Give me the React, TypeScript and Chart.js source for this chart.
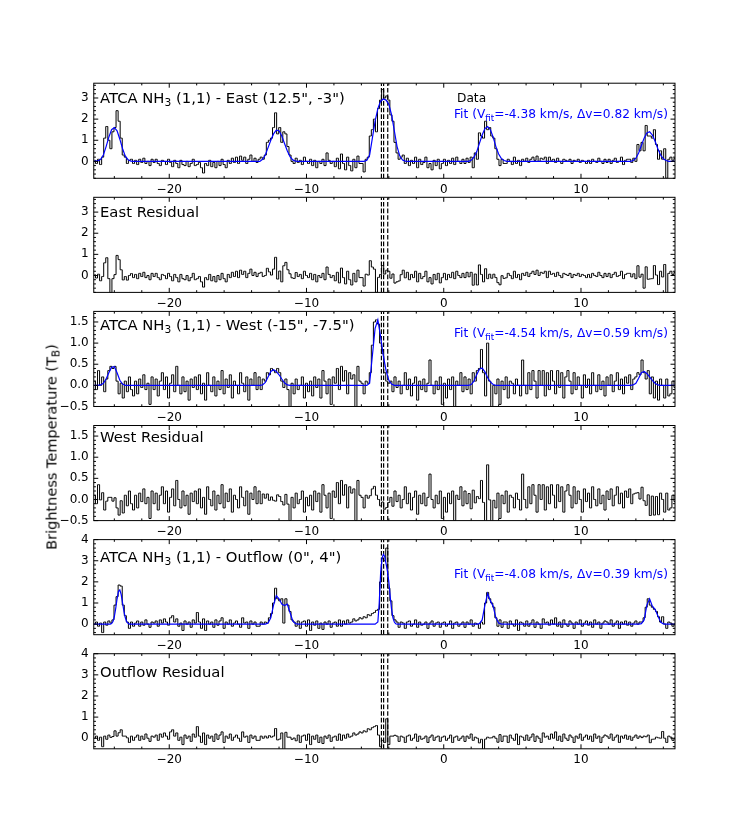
import React, { useEffect, useRef } from 'react';
import { Chart, registerables } from 'chart.js';

Chart.register(...registerables);

// ---------------- data ----------------
// channel grid (km/s): first channel velocity and channel width
const V_START = -25.45;
const V_STEP = 0.15;
const X_MIN = -25.5;
const X_MAX = 16.85;
const X_TICK_STEP = 10;
const X_MINOR_STEP = 2;

// fitted centroid velocities (dashed markers)
const V_MARKERS = [-4.54, -4.38, -4.08];

const EAST_DATA = [
  0.05, -0.1, 0.1, -0.15, 0.2, 1.1, 1.65, 1.0, 0.6, 1.4,
  1.6, 2.4, 1.9, 1.1, 0.3, 0.2, -0.1, 0.05, 0.1, -0.1,
  0.05, -0.15, 0.1, -0.05, 0.15, -0.1, 0.0, -0.2, 0.1, -0.05,
  0.1, -0.1, -0.2, 0.05, 0.0, -0.15, 0.1, -0.05, -0.25, 0.05,
  -0.1, -0.3, 0.05, -0.15, -0.2, 0.0, -0.25, -0.1, 0.1, -0.2,
  -0.15, -0.05, -0.3, -0.55, -0.1, -0.2, 0.05, -0.25, -0.05, -0.3,
  0.0, -0.2, 0.1, -0.15, -0.3, 0.05, -0.1, 0.15, -0.05, 0.2,
  -0.1, 0.25, 0.05, 0.2, -0.1, 0.1, 0.3, 0.0, 0.15, -0.05,
  0.1, 0.2, 0.1, 0.3, 0.9, 1.0, 1.1, 1.6, 2.3, 1.3,
  1.6, 0.9, 1.4, 1.3, 0.7, 0.3, 0.0, -0.1, 0.15, -0.05,
  0.05, -0.15, 0.2, 0.0, -0.1, 0.1, -0.2, 0.05, -0.3, 0.0,
  -0.1, 0.1, -0.2, 0.4, 0.05, -0.1, 0.0, -0.25, 0.15, -0.35,
  0.35, -0.1, -0.4, 0.2, -0.2, -0.45, 0.1, -0.3, 0.25, -0.1,
  -0.1, -0.5, 0.1, 0.2, 1.2, 1.5, 2.0, 1.4, 2.5, 2.9,
  3.4, 3.0, 3.1, 2.9, 2.2, 1.9, 0.9, 0.4, 0.1, 0.2,
  0.3, -0.1, 0.15, -0.2, 0.05, -0.1, 0.2, -0.3, 0.1, -0.15,
  -0.05, 0.2, -0.3, -0.1, -0.4, 0.05, -0.2, 0.1, -0.35, -0.1,
  0.1, -0.2, 0.05, -0.1, 0.15, -0.15, 0.2, 0.0, -0.1, 0.1,
  -0.1, 0.15, -0.05, 0.2, -0.3, 0.4, 0.1, 1.35, 1.2, 1.1,
  1.9, 1.5, 1.6, 1.2, 1.1, 0.6, 0.1, -0.2, 0.1, -0.1,
  -0.1, 0.1, 0.0, -0.15, 0.2, -0.1, 0.05, -0.2, 0.1, 0.0,
  0.15, -0.05, 0.1, 0.2, 0.05, 0.25, 0.0, 0.15, 0.1, 0.2,
  -0.1, 0.2, 0.05, 0.1, -0.05, 0.15, 0.0, -0.1, 0.1, 0.05,
  0.0, 0.1, -0.1, 0.05, 0.0, 0.1, -0.05, 0.05, 0.0, -0.1,
  0.05, -0.1, 0.1, 0.0, -0.05, 0.15, 0.0, -0.1, 0.1, -0.05,
  0.1, -0.1, 0.05, 0.15, -0.05, 0.0, 0.2, -0.15, 0.05, 0.1,
  0.1, -0.05, 0.15, 0.0, 0.8, 0.5, 0.9, 0.5, 1.7, 1.2,
  1.2, 1.1, 1.5, 0.8, 0.1, 0.5, 0.1, 0.6, -0.8, 0.1,
  0.2, 0.05, 0.15,
];

const EAST_FIT = [
  [-25.6, 0], [-25.4, 0.01], [-25.2, 0.02], [-25.0, 0.1], [-24.8, 0.3], [-24.6, 0.7], [-24.4, 1.15],
  [-24.2, 1.5], [-24.0, 1.6], [-23.8, 1.45], [-23.6, 1.05], [-23.4, 0.6], [-23.2, 0.25], [-23.0, 0.08],
  [-22.8, 0.01], [-22.6, 0],
  [-13.6, 0], [-13.4, 0.0], [-13.2, 0.1], [-13.0, 0.3], [-12.8, 0.65], [-12.6, 1.0], [-12.4, 1.3],
  [-12.2, 1.48], [-12.0, 1.45], [-11.8, 1.2], [-11.6, 0.85], [-11.4, 0.5], [-11.2, 0.22], [-11.0, 0.07],
  [-10.8, 0.01], [-10.6, 0],
  [-5.8, 0], [-5.6, 0.05], [-5.4, 0.3], [-5.2, 1.1], [-5.0, 1.9], [-4.8, 2.5], [-4.6, 2.85], [-4.4, 2.95],
  [-4.2, 2.9], [-4.0, 2.7], [-3.8, 2.2], [-3.6, 1.45], [-3.4, 0.7], [-3.2, 0.25], [-3.0, 0.06],
  [-2.8, 0.01], [-2.6, 0],
  [1.8, 0], [2.0, 0.05], [2.2, 0.2], [2.4, 0.45], [2.6, 0.85], [2.8, 1.25], [3.0, 1.55], [3.2, 1.65],
  [3.4, 1.5], [3.6, 1.15], [3.8, 0.7], [4.0, 0.35], [4.2, 0.13], [4.4, 0.04], [4.6, 0],
  [13.6, 0], [13.8, 0.04], [14.0, 0.15], [14.2, 0.4], [14.4, 0.75], [14.6, 1.1], [14.8, 1.35], [15.0, 1.4],
  [15.2, 1.25], [15.4, 0.95], [15.6, 0.6], [15.8, 0.3], [16.0, 0.12], [16.2, 0.04], [16.4, 0], [17.0, 0],
];

const EAST_RESIDUAL = [
  0.04, -0.12, 0.06, -0.25, -0.05, 0.6, 0.84, -0.15, -0.81, -0.15,
  0.04, 0.95, 0.75, 0.27, -0.21, -0.05, -0.22, 0.0, 0.09, -0.1,
  0.05, -0.15, 0.1, -0.05, 0.15, -0.1, 0.0, -0.2, 0.1, -0.05,
  0.1, -0.1, -0.2, 0.05, 0.0, -0.15, 0.1, -0.05, -0.25, 0.05,
  -0.1, -0.3, 0.05, -0.15, -0.2, 0.0, -0.25, -0.1, 0.1, -0.2,
  -0.15, -0.05, -0.3, -0.55, -0.1, -0.2, 0.05, -0.25, -0.05, -0.3,
  0.0, -0.2, 0.1, -0.15, -0.3, 0.05, -0.1, 0.15, -0.05, 0.2,
  -0.1, 0.25, 0.05, 0.2, -0.1, 0.1, 0.3, 0.0, 0.15, -0.05,
  0.1, 0.15, -0.05, 0.0, 0.34, 0.17, 0.02, 0.3, 0.86, -0.17,
  0.21, -0.3, 0.46, 0.62, 0.27, 0.08, -0.11, -0.14, 0.14, -0.05,
  0.05, -0.15, 0.2, 0.0, -0.1, 0.1, -0.2, 0.05, -0.3, 0.0,
  -0.1, 0.1, -0.2, 0.4, 0.05, -0.1, 0.0, -0.25, 0.15, -0.35,
  0.35, -0.1, -0.4, 0.2, -0.2, -0.45, 0.1, -0.3, 0.25, -0.1,
  -0.1, -0.5, 0.06, 0.02, 0.7, 0.4, 0.3, -0.8, -0.09, 0.05,
  0.47, 0.07, 0.25, 0.2, -0.13, 0.07, -0.36, -0.3, -0.26, 0.04,
  0.25, -0.11, 0.15, -0.2, 0.05, -0.1, 0.2, -0.3, 0.1, -0.15,
  -0.05, 0.2, -0.3, -0.1, -0.4, 0.05, -0.2, 0.1, -0.35, -0.1,
  0.1, -0.2, 0.05, -0.1, 0.15, -0.15, 0.2, 0.0, -0.1, 0.1,
  -0.1, 0.15, -0.06, 0.15, -0.46, 0.07, -0.45, 0.5, 0.05, -0.3,
  0.32, -0.15, 0.06, -0.13, 0.06, -0.1, -0.34, -0.44, -0.01, -0.14,
  -0.11, 0.1, 0.0, -0.15, 0.2, -0.1, 0.05, -0.2, 0.1, 0.0,
  0.15, -0.05, 0.1, 0.2, 0.05, 0.25, 0.0, 0.15, 0.1, 0.2,
  -0.1, 0.2, 0.05, 0.1, -0.05, 0.15, 0.0, -0.1, 0.1, 0.05,
  0.0, 0.1, -0.1, 0.05, 0.0, 0.1, -0.05, 0.05, 0.0, -0.1,
  0.05, -0.1, 0.1, 0.0, -0.05, 0.15, 0.0, -0.1, 0.1, -0.05,
  0.1, -0.1, 0.05, 0.15, -0.05, 0.0, 0.2, -0.15, 0.05, 0.1,
  0.1, -0.07, 0.08, -0.15, 0.46, -0.08, 0.06, -0.6, 0.41, -0.18,
  -0.16, -0.15, 0.47, 0.02, -0.43, 0.2, -0.07, 0.52, -0.83, 0.1,
  0.2, 0.05, 0.15,
];

const WEST_DATA = [
  0.1, -0.1, 0.35, 0.0, 0.2, -0.15, 0.15, 0.35, 0.45, 0.4,
  0.45, 0.1, -0.2, 0.05, -0.3, 0.1, -0.15, 0.2, -0.1, -0.25,
  0.1, -0.2, 0.15, -0.05, 0.25, -0.1, 0.05, -0.45, 0.2, -0.1,
  0.15, -0.25, 0.1, 0.3, -0.1, 0.2, -0.3, 0.05, 0.25, -0.15,
  0.45, 0.0, -0.2, 0.2, -0.15, 0.1, -0.35, 0.15, -0.05, 0.2,
  -0.1, 0.25, -0.2, 0.05, -0.35, 0.3, 0.0, -0.15, 0.2, -0.25,
  0.1, -0.1, 0.35, -0.2, 0.15, -0.05, 0.25, -0.3, 0.1, 0.0,
  -0.2, 0.3, 0.05, -0.15, 0.2, -0.35, 0.15, 0.0, 0.3, -0.1,
  0.2, -0.1, 0.15, 0.1, 0.3, 0.25, 0.4, 0.35, 0.3, 0.4,
  0.3, 0.1, -0.05, 0.15, -0.1, -0.5, 0.05, -0.2, 0.15, -0.1,
  0.0, 0.2, -0.3, 0.05, -0.15, 0.1, -0.25, 0.2, -0.05, 0.15,
  -0.3, 0.35, 0.1, -0.2, 0.15, -0.45, 0.2, 0.05, 0.4, -0.1,
  0.45, 0.1, 0.35, -0.2, 0.3, 0.15, 0.25, -0.5, 0.45, 0.1,
  0.05, -0.2, 0.1, 0.05, 0.3, 0.95, 1.5, 1.55, 1.45, 1.0,
  0.75, 0.3, 0.1, 0.05, 0.1, -0.15, 0.2, -0.05, 0.1, -0.2,
  0.0, 0.3, -0.1, 0.15, -0.25, 0.05, 0.2, -0.35, 0.1, -0.1,
  0.15, -0.15, 0.05, 0.6, 0.0, -0.2, 0.1, -0.1, 0.2, -0.45,
  0.05, -0.3, 0.15, -0.1, 0.2, -0.5, 0.1, 0.0, 0.3, -0.15,
  0.2, -0.1, 0.15, -0.2, 0.3, 0.1, 0.35, 0.4, 0.85, 0.3,
  -0.25, 1.0, 0.1, -0.5, 0.0, -0.2, 0.15, -0.45, 0.1, -0.1,
  0.2, -0.3, 0.1, 0.05, -0.2, 0.15, 0.0, -0.25, 0.6, 0.0,
  -0.2, 0.3, -0.1, 0.35, 0.1, -0.3, 0.35, 0.0, 0.35, -0.25,
  0.3, -0.1, 0.35, 0.1, -0.2, 0.35, -0.05, 0.3, -0.3, 0.2,
  0.35, 0.1, -0.2, 0.3, -0.1, 0.2, 0.0, -0.3, 0.25, -0.05,
  0.15, -0.2, 0.3, 0.0, -0.15, 0.25, -0.1, 0.1, -0.25, 0.2,
  0.0, 0.25, -0.15, 0.1, 0.3, -0.1, 0.15, -0.2, 0.2, 0.05,
  0.25, -0.1, 0.15, 0.2, 0.3, 0.25, 0.6, 0.3, 0.15, 0.35,
  -0.2, 0.2, -0.3, 0.1, -0.35, 0.15, 0.0, -0.3, 0.15, -0.25,
  -0.2, 0.1, -0.05,
];

const WEST_FIT = [
  [-25.6, 0], [-25.2, 0], [-25.0, 0.01], [-24.8, 0.05], [-24.6, 0.15], [-24.4, 0.3], [-24.2, 0.43],
  [-24.0, 0.44], [-23.8, 0.3], [-23.6, 0.12], [-23.4, 0.03], [-23.2, 0],
  [-13.4, 0], [-13.2, 0.01], [-13.0, 0.07], [-12.8, 0.2], [-12.6, 0.33], [-12.4, 0.37], [-12.2, 0.33],
  [-12.0, 0.25], [-11.8, 0.15], [-11.6, 0.06], [-11.4, 0.01], [-11.2, 0],
  [-5.6, 0], [-5.4, 0.05], [-5.2, 0.7], [-5.0, 1.35], [-4.8, 1.55], [-4.6, 1.15], [-4.4, 0.7],
  [-4.2, 0.35], [-4.0, 0.12], [-3.8, 0.03], [-3.6, 0],
  [1.8, 0], [2.0, 0.02], [2.2, 0.1], [2.4, 0.25], [2.6, 0.38], [2.8, 0.41], [3.0, 0.32], [3.2, 0.18],
  [3.4, 0.08], [3.6, 0.02], [3.8, 0],
  [13.6, 0], [13.8, 0.01], [14.0, 0.05], [14.2, 0.17], [14.4, 0.3], [14.6, 0.33], [14.8, 0.28],
  [15.0, 0.2], [15.2, 0.12], [15.4, 0.05], [15.6, 0.01], [15.8, 0], [17.0, 0],
];

const WEST_RESIDUAL = [
  0.1, -0.1, 0.35, -0.01, 0.16, -0.25, -0.04, 0.05, 0.05, -0.04,
  0.04, -0.2, -0.37, -0.03, -0.32, 0.1, -0.15, 0.2, -0.1, -0.25,
  0.1, -0.2, 0.15, -0.05, 0.25, -0.1, 0.05, -0.45, 0.2, -0.1,
  0.15, -0.25, 0.1, 0.3, -0.1, 0.2, -0.3, 0.05, 0.25, -0.15,
  0.45, 0.0, -0.2, 0.2, -0.15, 0.1, -0.35, 0.15, -0.05, 0.2,
  -0.1, 0.25, -0.2, 0.05, -0.35, 0.3, 0.0, -0.15, 0.2, -0.25,
  0.1, -0.1, 0.35, -0.2, 0.15, -0.05, 0.25, -0.3, 0.1, 0.0,
  -0.2, 0.3, 0.05, -0.15, 0.2, -0.35, 0.15, 0.0, 0.3, -0.1,
  0.2, -0.1, 0.13, 0.03, 0.13, -0.02, 0.06, -0.02, -0.04, 0.11,
  0.07, -0.05, -0.13, 0.12, -0.11, -0.5, 0.05, -0.2, 0.15, -0.1,
  0.0, 0.2, -0.3, 0.05, -0.15, 0.1, -0.25, 0.2, -0.05, 0.15,
  -0.3, 0.35, 0.1, -0.2, 0.15, -0.45, 0.2, 0.05, 0.4, -0.1,
  0.45, 0.1, 0.35, -0.2, 0.3, 0.15, 0.25, -0.5, 0.45, 0.1,
  0.05, -0.2, 0.1, 0.03, 0.09, 0.25, 0.31, 0.1, 0.0, -0.15,
  -0.06, -0.23, -0.19, -0.07, 0.05, -0.16, 0.2, -0.05, 0.1, -0.2,
  0.0, 0.3, -0.1, 0.15, -0.25, 0.05, 0.2, -0.35, 0.1, -0.1,
  0.15, -0.15, 0.05, 0.6, 0.0, -0.2, 0.1, -0.1, 0.2, -0.45,
  0.05, -0.3, 0.15, -0.1, 0.2, -0.5, 0.1, 0.0, 0.3, -0.15,
  0.2, -0.1, 0.14, -0.22, 0.22, -0.08, 0.07, 0.02, 0.45, -0.07,
  -0.54, 0.82, -0.01, -0.55, -0.02, -0.2, 0.15, -0.45, 0.1, -0.1,
  0.2, -0.3, 0.1, 0.05, -0.2, 0.15, 0.0, -0.25, 0.6, 0.0,
  -0.2, 0.3, -0.1, 0.35, 0.1, -0.3, 0.35, 0.0, 0.35, -0.25,
  0.3, -0.1, 0.35, 0.1, -0.2, 0.35, -0.05, 0.3, -0.3, 0.2,
  0.35, 0.1, -0.2, 0.3, -0.1, 0.2, 0.0, -0.3, 0.25, -0.05,
  0.15, -0.2, 0.3, 0.0, -0.15, 0.25, -0.1, 0.1, -0.25, 0.2,
  0.0, 0.25, -0.15, 0.1, 0.3, -0.1, 0.15, -0.2, 0.2, 0.05,
  0.25, -0.1, 0.13, 0.15, 0.16, 0.01, 0.29, -0.03, -0.14, 0.11,
  -0.38, 0.08, -0.37, 0.07, -0.36, 0.15, 0.0, -0.3, 0.15, -0.25,
  -0.2, 0.1, -0.05,
];

const OUTFLOW_DATA = [
  0.0, 0.1, -0.1, 0.05, -0.4, 0.1, -0.05, 0.15, 0.05, 0.2,
  0.9, 1.3, 1.85, 1.8, 0.9, 0.4, 0.1, -0.2, 0.1, -0.1,
  0.05, 0.15, -0.1, 0.1, -0.05, 0.2, 0.0, -0.15, 0.1, 0.05,
  0.15, -0.1, 0.2, 0.05, 0.25, 0.1, -0.05, 0.3, 0.4, 0.1,
  0.25, -0.1, 0.05, -0.3, 0.15, 0.0, 0.1, -0.15, 0.2, 0.05,
  0.55, 0.1, -0.2, 0.25, -0.3, 0.15, 0.0, 0.1, -0.15, 0.2,
  -0.05, 0.15, 0.3, -0.2, 0.1, 0.0, 0.2, -0.1, 0.05, 0.15,
  0.0, -0.15, 0.3, 0.05, 0.1, -0.2, 0.15, 0.0, 0.1, -0.1,
  -0.1, 0.1, 0.0, 0.1, 0.05, 0.3, 0.5, 1.0, 1.7, 1.2,
  1.1, 1.2, 0.05, 1.2, 0.9, 0.6, 0.2, 0.1, -0.1, 0.15,
  -0.2, 0.1, 0.15, -0.1, 0.2, -0.3, 0.1, -0.05, 0.15, -0.2,
  0.05, -0.25, 0.1, 0.0, 0.15, -0.15, 0.05, 0.1, -0.1, 0.2,
  -0.1, 0.15, 0.0, 0.2, 0.05, 0.1, 0.25, 0.15, 0.2, 0.3,
  0.25, 0.35, 0.3, 0.45, 0.4, 0.5, 0.55, 0.65, 0.7, 2.0,
  3.1, 3.0, 3.6, 1.7, 1.1, 0.4, 0.2, 0.1, -0.15, 0.1,
  0.05, -0.2, 0.1, 0.15, -0.1, 0.0, 0.2, -0.15, 0.1, -0.05,
  0.0, 0.1, -0.2, 0.05, 0.15, -0.1, 0.05, 0.1, -0.15, 0.05,
  0.1, -0.1, 0.0, 0.15, -0.2, 0.05, 0.1, -0.1, 0.0, 0.1,
  -0.15, 0.1, 0.0, 0.2, -0.1, 0.05, 0.0, -0.2, 0.1, 0.0,
  1.0, 1.5, 1.2, 1.0, 0.8, 0.3, -0.1, 0.2, -0.15, 0.1,
  0.1, -0.2, 0.15, 0.0, -0.1, 0.2, -0.3, 0.1, 0.05, -0.1,
  0.15, -0.1, 0.05, 0.2, -0.15, 0.1, 0.0, -0.2, 0.25, 0.05,
  0.1, -0.05, 0.2, 0.0, 0.3, -0.1, 0.1, -0.15, 0.2, 0.0,
  -0.1, 0.15, 0.05, -0.2, 0.1, 0.0, 0.2, -0.1, 0.05, 0.15,
  -0.05, 0.1, -0.15, 0.2, 0.0, 0.1, -0.2, 0.05, 0.15, 0.1,
  0.0, 0.2, -0.1, 0.05, 0.15, -0.2, 0.1, 0.0, 0.15, -0.05,
  0.1, -0.1, 0.05, 0.15, 0.0, 0.1, 0.1, 0.3, 0.8, 1.2,
  0.9, 0.8, 0.7, 0.6, 0.35, 0.1, 0.35, 0.0, -0.2, 0.1,
  0.05, -0.1, 0.0,
];

const OUTFLOW_FIT = [
  [-25.6, 0], [-24.3, 0], [-24.2, 0.03], [-24.1, 0.12], [-24.0, 0.35], [-23.9, 0.75], [-23.8, 1.2],
  [-23.7, 1.55], [-23.6, 1.62], [-23.5, 1.4], [-23.4, 1.0], [-23.3, 0.6], [-23.2, 0.3], [-23.1, 0.12],
  [-23.0, 0.04], [-22.9, 0],
  [-13.0, 0], [-12.8, 0.05], [-12.6, 0.3], [-12.4, 0.9], [-12.2, 1.35], [-12.0, 1.2], [-11.8, 0.95],
  [-11.6, 0.88], [-11.4, 0.95], [-11.2, 0.55], [-11.0, 0.15], [-10.8, 0.02], [-10.6, 0],
  [-5.0, 0], [-4.8, 0.1], [-4.7, 1.0], [-4.6, 2.4], [-4.5, 3.1], [-4.4, 3.3], [-4.3, 3.2], [-4.2, 2.85],
  [-4.1, 2.5], [-4.0, 2.0], [-3.9, 1.3], [-3.8, 0.7], [-3.7, 0.3], [-3.6, 0.1], [-3.5, 0.02], [-3.4, 0],
  [2.4, 0], [2.6, 0.02], [2.8, 0.2], [3.0, 0.9], [3.2, 1.45], [3.4, 1.1], [3.6, 0.85], [3.8, 0.3],
  [4.0, 0.05], [4.2, 0],
  [14.2, 0], [14.4, 0.02], [14.6, 0.2], [14.8, 0.9], [15.0, 1.2], [15.2, 0.85], [15.4, 0.7], [15.6, 0.4],
  [15.8, 0.1], [16.0, 0.01], [16.2, 0], [17.0, 0],
];

const OUTFLOW_RESIDUAL = [
  0.0, 0.1, -0.1, 0.05, -0.4, 0.1, -0.05, 0.15, 0.04, 0.08,
  0.35, 0.1, 0.26, 0.4, 0.1, 0.1, 0.02, -0.2, 0.1, -0.1,
  0.05, 0.15, -0.1, 0.1, -0.05, 0.2, 0.0, -0.15, 0.1, 0.05,
  0.15, -0.1, 0.2, 0.05, 0.25, 0.1, -0.05, 0.3, 0.4, 0.1,
  0.25, -0.1, 0.05, -0.3, 0.15, 0.0, 0.1, -0.15, 0.2, 0.05,
  0.55, 0.1, -0.2, 0.25, -0.3, 0.15, 0.0, 0.1, -0.15, 0.2,
  -0.05, 0.15, 0.3, -0.2, 0.1, 0.0, 0.2, -0.1, 0.05, 0.15,
  0.0, -0.15, 0.3, 0.05, 0.1, -0.2, 0.15, 0.0, 0.1, -0.1,
  -0.1, 0.1, 0.0, 0.1, 0.01, 0.12, 0.05, 0.1, 0.46, -0.08,
  -0.04, 0.25, -0.85, 0.28, 0.05, 0.05, -0.05, 0.01, -0.12, 0.15,
  -0.2, 0.1, 0.15, -0.1, 0.2, -0.3, 0.1, -0.05, 0.15, -0.2,
  0.05, -0.25, 0.1, 0.0, 0.15, -0.15, 0.05, 0.1, -0.1, 0.2,
  -0.1, 0.15, 0.0, 0.2, 0.05, 0.1, 0.25, 0.15, 0.2, 0.3,
  0.25, 0.35, 0.3, 0.45, 0.4, 0.5, 0.55, 0.6, 0.15, -0.4,
  -0.1, -0.2, 0.92, -0.3, 0.1, 0.1, 0.14, 0.1, -0.15, 0.1,
  0.05, -0.2, 0.1, 0.15, -0.1, 0.0, 0.2, -0.15, 0.1, -0.05,
  0.0, 0.1, -0.2, 0.05, 0.15, -0.1, 0.05, 0.1, -0.15, 0.05,
  0.1, -0.1, 0.0, 0.15, -0.2, 0.05, 0.1, -0.1, 0.0, 0.1,
  -0.15, 0.1, 0.0, 0.2, -0.1, 0.05, 0.0, -0.22, -0.05, -0.55,
  -0.04, 0.05, 0.01, 0.02, 0.09, 0.0, -0.19, 0.17, -0.15, 0.1,
  0.1, -0.2, 0.15, 0.0, -0.1, 0.2, -0.3, 0.1, 0.05, -0.1,
  0.15, -0.1, 0.05, 0.2, -0.15, 0.1, 0.0, -0.2, 0.25, 0.05,
  0.1, -0.05, 0.2, 0.0, 0.3, -0.1, 0.1, -0.15, 0.2, 0.0,
  -0.1, 0.15, 0.05, -0.2, 0.1, 0.0, 0.2, -0.1, 0.05, 0.15,
  -0.05, 0.1, -0.15, 0.2, 0.0, 0.1, -0.2, 0.05, 0.15, 0.1,
  0.0, 0.2, -0.1, 0.05, 0.15, -0.2, 0.1, 0.0, 0.15, -0.05,
  0.1, -0.1, 0.05, 0.15, 0.0, 0.1, 0.03, 0.1, 0.07, 0.15,
  -0.21, -0.05, -0.04, 0.05, 0.02, 0.0, 0.32, 0.0, -0.2, 0.1,
  0.05, -0.1, 0.0,
];

// y-axis settings per pair of panels
const Y_RANGE_EAST = [-0.8, 3.7];
const Y_RANGE_WEST = [-0.5, 1.75];
const Y_RANGE_OUTFLOW = [-0.5, 4];

// ---------------- layout ----------------
const W = 750;
const H = 832;
const PLOT_LEFT = 93.75;
const PLOT_RIGHT = 675;
const FIG_TOP = 83.2;
const FIG_BOTTOM = 748.8;
const N_PANELS = 6;
const HSPACE = 0.2;
const PANEL_H = (FIG_BOTTOM - FIG_TOP) / (N_PANELS + (N_PANELS - 1) * HSPACE);
const PANEL_PITCH = PANEL_H * (1 + HSPACE);
const Y_AXIS_W = 40;
const X_AXIS_H = 24;
const FONT = '"DejaVu Sans", sans-serif';

const PANELS = [
  { series: EAST_DATA, fit: EAST_FIT, yRange: Y_RANGE_EAST, yStep: 1, yMinor: 0.2, yDec: 0 },
  { series: EAST_RESIDUAL, fit: null, yRange: Y_RANGE_EAST, yStep: 1, yMinor: 0.2, yDec: 0 },
  { series: WEST_DATA, fit: WEST_FIT, yRange: Y_RANGE_WEST, yStep: 0.5, yMinor: 0.1, yDec: 1 },
  { series: WEST_RESIDUAL, fit: null, yRange: Y_RANGE_WEST, yStep: 0.5, yMinor: 0.1, yDec: 1 },
  { series: OUTFLOW_DATA, fit: OUTFLOW_FIT, yRange: Y_RANGE_OUTFLOW, yStep: 1, yMinor: 0.2, yDec: 0 },
  { series: OUTFLOW_RESIDUAL, fit: null, yRange: Y_RANGE_OUTFLOW, yStep: 1, yMinor: 0.2, yDec: 0 },
];

const fmtTick = (dec: number) => (v: any) => Number(v).toFixed(dec).replace('-', '\u2212');

// frame + inward ticks on all four sides (matplotlib style)
const framePlugin = {
  id: 'frameTicks',
  afterDatasetsDraw(chart: any, _args: any, opts: any) {
    const { ctx, chartArea } = chart;
    const { left, right, top, bottom } = chartArea;
    const xs = chart.scales.x;
    const ys = chart.scales.y;
    ctx.save();
    ctx.strokeStyle = '#000';
    ctx.lineWidth = 1;
    ctx.beginPath();
    const MAJ = 4.5;
    const MIN = 2.2;
    const i0x = Math.ceil(xs.min / opts.xMinor - 1e-9);
    const i1x = Math.floor(xs.max / opts.xMinor + 1e-9);
    for (let i = i0x; i <= i1x; i++) {
      const v = i * opts.xMinor;
      const r = v / opts.xMajor;
      const major = Math.abs(r - Math.round(r)) < 1e-6;
      const len = major ? MAJ : MIN;
      const px = xs.getPixelForValue(v);
      ctx.moveTo(px, bottom);
      ctx.lineTo(px, bottom - len);
      ctx.moveTo(px, top);
      ctx.lineTo(px, top + len);
    }
    const i0y = Math.ceil(ys.min / opts.yMinor - 1e-9);
    const i1y = Math.floor(ys.max / opts.yMinor + 1e-9);
    for (let i = i0y; i <= i1y; i++) {
      const v = i * opts.yMinor;
      const r = v / opts.yMajor;
      const major = Math.abs(r - Math.round(r)) < 1e-6;
      const len = major ? MAJ : MIN;
      const py = ys.getPixelForValue(v);
      ctx.moveTo(left, py);
      ctx.lineTo(left + len, py);
      ctx.moveTo(right, py);
      ctx.lineTo(right - len, py);
    }
    ctx.stroke();
    ctx.strokeRect(left, top, right - left, bottom - top);
    ctx.restore();
  },
};

function buildChart(canvas: HTMLCanvasElement, idx: number) {
  const p = PANELS[idx];
  const top = FIG_TOP + idx * PANEL_PITCH;
  const bottom = top + PANEL_H;
  const [yMin, yMax] = p.yRange;
  const datasets: any[] = [];
  V_MARKERS.forEach((v) => {
    datasets.push({
      data: [{ x: v, y: yMin }, { x: v, y: yMax }],
      borderColor: '#000',
      borderWidth: 1.2,
      borderDash: [4.6, 2],
      pointRadius: 0,
      fill: false,
      order: 2,
    });
  });
  datasets.push({
    data: p.series.map((y, i) => ({ x: V_START + i * V_STEP, y })),
    borderColor: '#000',
    borderWidth: 1,
    stepped: 'middle',
    pointRadius: 0,
    fill: false,
    order: 1,
  });
  if (p.fit) {
    datasets.push({
      data: p.fit.map(([x, y]) => ({ x, y })),
      borderColor: '#0000ff',
      borderWidth: 1.2,
      pointRadius: 0,
      fill: false,
      tension: 0,
      order: 0,
    });
  }
  return new Chart(canvas, {
    type: 'line',
    data: { datasets },
    plugins: [framePlugin],
    options: {
      animation: false,
      responsive: false,
      devicePixelRatio: 1,
      events: [],
      layout: {
        padding: {
          left: PLOT_LEFT - Y_AXIS_W,
          right: W - PLOT_RIGHT,
          top,
          bottom: H - bottom - X_AXIS_H,
        },
      },
      plugins: {
        legend: { display: false },
        tooltip: { enabled: false },
        frameTicks: { xMajor: X_TICK_STEP, xMinor: X_MINOR_STEP, yMajor: p.yStep, yMinor: p.yMinor },
      } as any,
      scales: {
        x: {
          type: 'linear',
          min: X_MIN,
          max: X_MAX,
          afterFit: (s: any) => { s.height = X_AXIS_H; },
          grid: { display: false, drawTicks: false },
          border: { display: false },
          ticks: {
            stepSize: X_TICK_STEP,
            includeBounds: false,
            autoSkip: false,
            maxRotation: 0,
            padding: 4,
            color: '#000',
            font: { family: FONT, size: 12 },
            callback: fmtTick(0),
          },
        },
        y: {
          type: 'linear',
          min: yMin,
          max: yMax,
          afterFit: (s: any) => { s.width = Y_AXIS_W; },
          grid: { display: false, drawTicks: false },
          border: { display: false },
          ticks: {
            stepSize: p.yStep,
            includeBounds: false,
            autoSkip: false,
            padding: 5,
            color: '#000',
            font: { family: FONT, size: 12 },
            callback: fmtTick(p.yDec),
          },
        },
      } as any,
    },
  });
}

// ---------------- text ----------------
const TITLES = [
  ['ATCA NH', '3', ' (1,1) - East (12.5", -3")'],
  ['East Residual'],
  ['ATCA NH', '3', ' (1,1) - West (-15", -7.5")'],
  ['West Residual'],
  ['ATCA NH', '3', ' (1,1) - Outflow (0", 4")'],
  ['Outflow Residual'],
];
const TITLE_Y = [97.5, 211.5, 325, 437, 557, 672];
const FIT_LABELS = [
  { panel: 0, v: '-4.38', dv: '0.82', y: 114 },
  { panel: 2, v: '-4.54', dv: '0.59', y: 333 },
  { panel: 4, v: '-4.08', dv: '0.39', y: 574 },
];
const Y_TITLE = ['Brightness Temperature (T', 'B', ')'];

const subStyle: any = { fontSize: '0.72em', position: 'relative', top: '0.3em', verticalAlign: 'baseline' };

function Label({ x, cy, size, color, children }: any) {
  return (
    <div
      style={{
        position: 'absolute',
        left: x,
        top: cy - 10,
        height: 20,
        lineHeight: '20px',
        fontSize: size,
        color,
        whiteSpace: 'nowrap',
        fontFamily: FONT,
      }}
    >
      {children}
    </div>
  );
}

export default function App() {
  const refs = useRef<(HTMLCanvasElement | null)[]>([]);
  useEffect(() => {
    document.body.style.margin = '0';
    const charts = PANELS.map((_, i) => buildChart(refs.current[i] as HTMLCanvasElement, i));
    return () => charts.forEach((c) => c.destroy());
  }, []);

  return (
    <div style={{ position: 'absolute', left: 0, top: 0, width: W, height: H, background: '#fff', overflow: 'hidden', fontFamily: FONT }}>
      {PANELS.map((_, i) => (
        <canvas
          key={i}
          ref={(el) => { refs.current[i] = el; }}
          width={W}
          height={H}
          style={{ position: 'absolute', left: 0, top: 0, width: W, height: H }}
        />
      ))}
      {TITLES.map((t, i) => (
        <Label key={'t' + i} x={100} cy={TITLE_Y[i]} size={14.8} color="#000">
          {t[0]}
          {t.length > 1 ? <span style={subStyle}>{t[1]}</span> : null}
          {t.length > 2 ? t[2] : null}
        </Label>
      ))}
      <Label x={457} cy={97.5} size={12.2} color="#000">Data</Label>
      {FIT_LABELS.map((f, i) => (
        <Label key={'f' + i} x={454} cy={f.y} size={12.2} color="#0000ff">
          Fit (V<span style={subStyle}>fit</span>={f.v} km/s, Δv={f.dv} km/s)
        </Label>
      ))}
      <div
        style={{
          position: 'absolute',
          left: 52,
          top: 447,
          transform: 'translate(-50%, -50%) rotate(-90deg)',
          whiteSpace: 'nowrap',
          fontSize: 14.5,
          fontFamily: FONT,
          color: '#000',
          lineHeight: '18px',
        }}
      >
        {Y_TITLE[0]}<span style={subStyle}>{Y_TITLE[1]}</span>{Y_TITLE[2]}
      </div>
    </div>
  );
}
